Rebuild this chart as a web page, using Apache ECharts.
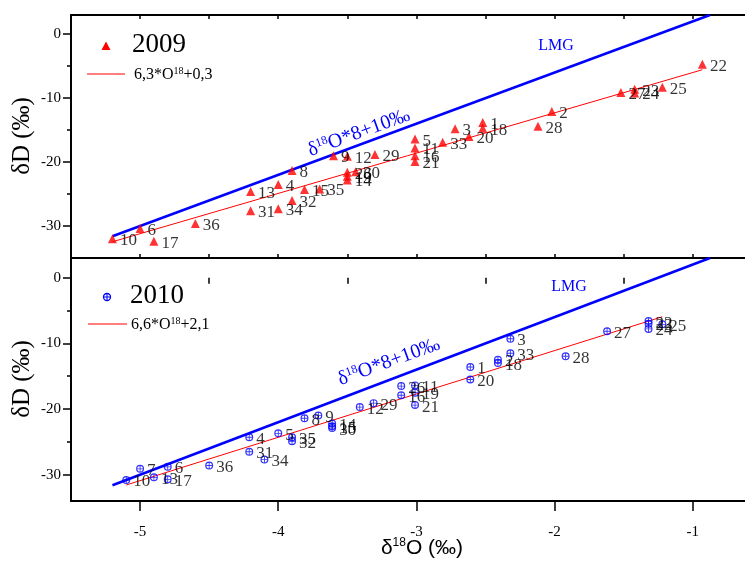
<!DOCTYPE html>
<html><head><meta charset="utf-8">
<script src="https://cdn.jsdelivr.net/npm/echarts@6/dist/echarts.min.js"></script>
<style>html,body{margin:0;padding:0;background:#fff}#c{width:745px;height:565px}</style>
</head><body><div id="c"></div>
<script>
// ---- data ----
const ids2009 = [1,2,3,4,5,6,8,9,10,11,12,13,14,15,16,17,18,19,20,21,22,23,24,25,26,27,28,29,30,31,32,33,34,35,36];
const x2009 = [-2.52,-2.02,-2.72,-4.0,-3.01,-5.0,-3.9,-3.6,-5.2,-3.01,-3.5,-4.2,-3.5,-3.81,-3.01,-4.9,-2.52,-3.5,-2.62,-3.01,-0.93,-1.42,-1.42,-1.22,-3.5,-1.52,-2.12,-3.3,-3.44,-4.2,-3.9,-2.81,-4.0,-3.7,-4.6];
const y2009 = [-13.8,-12.1,-14.8,-23.5,-16.4,-30.4,-21.3,-19.0,-32.0,-17.8,-19.1,-24.6,-22.8,-24.3,-19.0,-32.4,-14.7,-22.2,-16.0,-19.9,-4.7,-8.6,-9.2,-8.3,-21.6,-9.1,-14.4,-18.8,-21.5,-27.6,-26.0,-16.9,-27.3,-24.2,-29.6];

const ids2010 = [1,2,3,4,5,6,7,8,9,10,11,12,13,14,15,16,17,18,19,20,21,22,23,24,25,26,27,28,29,30,31,32,33,34,35,36];
const x2010 = [-2.61,-2.41,-2.32,-4.21,-4.0,-4.8,-5.0,-3.81,-3.71,-5.1,-3.01,-3.41,-4.9,-3.61,-3.61,-3.11,-4.8,-2.41,-3.01,-2.61,-3.01,-1.32,-1.32,-1.32,-1.22,-3.11,-1.62,-1.92,-3.31,-3.61,-4.21,-3.9,-2.32,-4.1,-3.9,-4.5];
const y2010 = [-13.6,-12.5,-9.3,-24.3,-23.7,-28.8,-29.1,-21.4,-21.0,-30.8,-16.4,-19.7,-30.4,-22.2,-22.6,-17.9,-30.7,-13.0,-17.5,-15.5,-19.4,-6.6,-7.0,-7.8,-7.1,-16.5,-8.15,-11.95,-19.1,-22.9,-26.5,-24.9,-11.5,-27.7,-24.3,-28.6];

const reg2009 = [6.3, 0.3];   // slope, intercept
const reg2010 = [6.6, 2.1];
const lmgCoef = [8, 10];
const lmgX = [-5.2, -0.875];

const xMajorTicks = [-5,-4,-3,-2,-1];
const xMinorTicks = [-4.5,-3.5,-2.5,-1.5];
const xAllTicks = [-5,-4.5,-4,-3.5,-3,-2.5,-2,-1.5,-1];
const yMajorTicks = [-30,-20,-10,0];
const yMinorTicks = [-25,-15,-5];

// ---- helpers ----
function pts(ids, xs, ys){ return ids.map((id,i)=>[xs[i], ys[i], id]); }
function regLine(xs, c){ const lo=Math.min(...xs), hi=Math.max(...xs); return [[lo, c[0]*lo+c[1]], [hi, c[0]*hi+c[1]]]; }
function lmgLine(){ return lmgX.map(x=>[x, lmgCoef[0]*x+lmgCoef[1]]); }

const SERIF = "'Liberation Serif','Times New Roman',serif";
const SANS = "'Liberation Sans',Arial,sans-serif";
const BLK = '#000';
const tickStyle = {color:BLK, width:1.5};
const lineAx = {show:true, onZero:false, lineStyle:{color:BLK, width:1.8}};
const xBase = {type:'value', min:-5.5, max:-0.6, splitLine:{show:false}};
const crossSym = 'path://M5,0A5,5,0,1,1,5,10A5,5,0,1,1,5,0ZM5,1.5A3.5,3.5,0,1,0,5,8.5A3.5,3.5,0,1,0,5,1.5ZM4.45,1H5.55V9H4.45ZM1,4.45H9V5.55H1Z';

function yMain(grid, min){
  return {type:'value', gridIndex:grid, min:min, max:3, position:'left', splitLine:{show:false},
    axisLine:lineAx,
    axisTick:{show:true, customValues:yMajorTicks, length:8, lineStyle:tickStyle},
    axisLabel:{customValues:yMajorTicks, margin:10, fontFamily:SERIF, fontSize:15, color:BLK}};
}
function yMinor(grid, min){
  return {type:'value', gridIndex:grid, min:min, max:3, position:'left', splitLine:{show:false},
    axisLine:{show:false}, axisLabel:{show:false},
    axisTick:{show:true, customValues:yMinorTicks, length:4, lineStyle:tickStyle}};
}

const labelStyle = {show:true, position:'right', distance:3, offset:[0,2],
  formatter:p=>String(p.value[2]), fontFamily:SERIF, fontSize:17, color:BLK};

const supRich = (size, sub, color) => ({
  a:{fontFamily:SERIF, fontSize:size, fill:color, color:color},
  s:{fontFamily:SERIF, fontSize:sub, fill:color, color:color, verticalAlign:'top', padding:[0,0,Math.round(size*0.45),0]}
});

const option = {
  animation:false,
  grid:[
    {left:71, top:15, right:-3, height:243, show:true, borderColor:BLK, borderWidth:1.8, outerBoundsMode:'none', containLabel:false},
    {left:71, top:258, right:-3, height:243, show:true, borderColor:BLK, borderWidth:1.8, outerBoundsMode:'none', containLabel:false}
  ],
  xAxis:[
    {...xBase, gridIndex:0, position:'bottom', axisLine:lineAx, axisLabel:{show:false},
      axisTick:{show:true, inside:true, length:4, customValues:xAllTicks, lineStyle:tickStyle}},
    {...xBase, gridIndex:0, position:'top', axisLine:lineAx, axisLabel:{show:false},
      axisTick:{show:true, inside:true, length:4, customValues:xAllTicks, lineStyle:tickStyle}},
    {...xBase, gridIndex:1, position:'bottom', axisLine:lineAx,
      axisTick:{show:true, length:10, customValues:xMajorTicks, lineStyle:tickStyle},
      axisLabel:{customValues:xMajorTicks, margin:24, fontFamily:SERIF, fontSize:15, color:BLK}},
    {...xBase, gridIndex:1, position:'bottom', axisLine:{show:false}, axisLabel:{show:false},
      axisTick:{show:true, length:6, customValues:xMinorTicks, lineStyle:tickStyle}}
  ],
  yAxis:[ yMain(0,-35), yMinor(0,-35), yMain(1,-34), yMinor(1,-34) ],
  series:[
    {type:'line', xAxisIndex:0, yAxisIndex:0, data:lmgLine(), showSymbol:false, z:2,
      lineStyle:{color:'#0000ff', width:2.5}},
    {type:'line', xAxisIndex:0, yAxisIndex:0, data:regLine(x2009, reg2009), showSymbol:false, z:2,
      lineStyle:{color:'#ff0000', width:1}},
    {type:'scatter', xAxisIndex:0, yAxisIndex:0, data:pts(ids2009,x2009,y2009), symbol:'triangle', symbolSize:9, z:3,
      itemStyle:{color:'#ff0000'}, label:labelStyle},
    {type:'line', xAxisIndex:2, yAxisIndex:2, data:lmgLine(), showSymbol:false, z:2,
      lineStyle:{color:'#0000ff', width:2.5}},
    {type:'line', xAxisIndex:2, yAxisIndex:2, data:regLine(x2010, reg2010), showSymbol:false, z:2,
      lineStyle:{color:'#ff0000', width:1}},
    {type:'scatter', xAxisIndex:2, yAxisIndex:2, data:pts(ids2010,x2010,y2010), symbol:crossSym, symbolSize:8, z:3,
      itemStyle:{color:'#0000ff'}, label:labelStyle}
  ],
  graphic:[
    // y-axis titles
    {type:'text', x:22, y:136, rotation:Math.PI/2, style:{text:'δD (‰)', font:"25px "+SERIF, fill:BLK, align:'center', verticalAlign:'middle'}},
    {type:'text', x:22, y:379, rotation:Math.PI/2, style:{text:'δD (‰)', font:"25px "+SERIF, fill:BLK, align:'center', verticalAlign:'middle'}},
    // legend top
    {type:'polygon', shape:{points:[[106,41.5],[110.5,50],[101.5,50]]}, style:{fill:'#ff0000'}},
    {type:'text', x:132, y:45, style:{text:'2009', font:"27px "+SERIF, fill:BLK, verticalAlign:'middle'}},
    {type:'line', shape:{x1:87,y1:74,x2:125,y2:74}, style:{stroke:'#ff0000', lineWidth:1}},
    {type:'text', x:134, y:75, style:{text:'{a|6,3*O}{s|18}{a|+0,3}', verticalAlign:'middle', fill:BLK, rich:supRich(16,10,BLK)}},
    // legend bottom
    {type:'circle', shape:{cx:107, cy:297, r:3.5}, style:{fill:'#fff', stroke:'#0000ff', lineWidth:1.3}},
    {type:'line', shape:{x1:103.5,y1:297,x2:110.5,y2:297}, style:{stroke:'#0000ff', lineWidth:1}},
    {type:'line', shape:{x1:107,y1:293.5,x2:107,y2:300.5}, style:{stroke:'#0000ff', lineWidth:1}},
    {type:'text', x:130, y:296, style:{text:'2010', font:"27px "+SERIF, fill:BLK, verticalAlign:'middle'}},
    {type:'line', shape:{x1:88,y1:324,x2:127,y2:324}, style:{stroke:'#ff0000', lineWidth:1}},
    {type:'text', x:131, y:325, style:{text:'{a|6,6*O}{s|18}{a|+2,1}', verticalAlign:'middle', fill:BLK, rich:supRich(16,10,BLK)}},
    // LMG labels
    {type:'text', x:556, y:46, style:{text:'LMG', font:"16px "+SERIF, fill:'#0000ff', align:'center', verticalAlign:'middle'}},
    {type:'text', x:569, y:287, style:{text:'LMG', font:"16px "+SERIF, fill:'#0000ff', align:'center', verticalAlign:'middle'}},
    {type:'text', x:359, y:133, rotation:0.35, style:{text:'{a|δ}{s|18}{a|O*8+10‰}', align:'center', verticalAlign:'middle', fill:'#0000ff', rich:supRich(20,12,'#0000ff')}},
    {type:'text', x:389, y:362, rotation:0.35, style:{text:'{a|δ}{s|18}{a|O*8+10‰}', align:'center', verticalAlign:'middle', fill:'#0000ff', rich:supRich(20,12,'#0000ff')}},
    // x-axis title
    {type:'text', x:422, y:548, style:{text:'{a|δ}{s|18}{a|O (‰)}', align:'center', verticalAlign:'middle', fill:BLK,
      rich:{a:{fontFamily:SANS, fontSize:21, fill:BLK}, s:{fontFamily:SANS, fontSize:12, fill:BLK, verticalAlign:'top', padding:[0,0,10,0]}}}}
  ]
};
const chart = echarts.init(document.getElementById('c'), null, {renderer:'canvas'});
chart.setOption(option);
</script></body></html>
